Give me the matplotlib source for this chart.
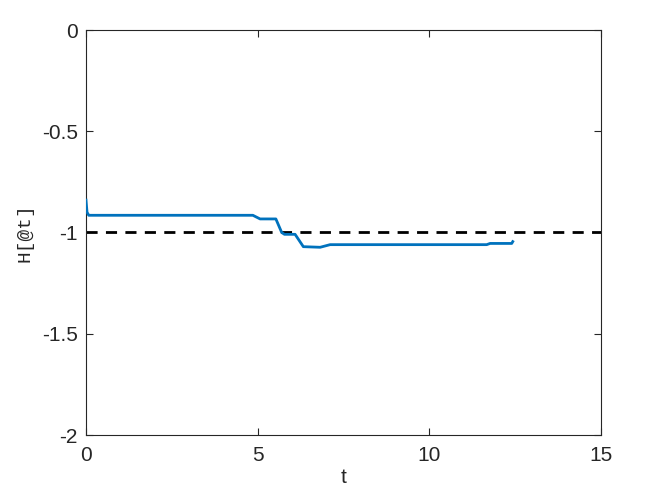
import numpy as np
import matplotlib.pyplot as plt

# H[@t] trace
t = [0.0, 0.03, 0.08, 1.0, 4.86, 5.07, 5.53, 5.70, 5.78, 6.09, 6.33, 6.82, 7.11,
     11.67, 11.77, 12.40, 12.43]
H = [-0.84, -0.90, -0.915, -0.915, -0.915, -0.933, -0.933, -1.0, -1.009, -1.009,
     -1.07, -1.073, -1.060, -1.060, -1.054, -1.054, -1.045]

ref_t = [0, 15]
ref_H = [-1, -1]

plt.rcParams['font.family'] = ['Liberation Sans', 'DejaVu Sans']

fig = plt.figure(figsize=(6.64, 4.98), dpi=100)
ax = fig.add_axes([86/664, 1 - 435/498, 515/664, 405/498])

ax.plot(t, H, color='#0072BD', lw=2, zorder=3)
ax.plot(ref_t, ref_H, color='black', lw=2, ls=(0, (4, 3)))

ax.set_xlim(0, 15)
ax.set_ylim(-2, 0)
ax.set_xticks([0, 5, 10, 15])
ax.set_yticks([-2, -1.5, -1, -0.5, 0])
ax.set_yticklabels(['-2', '-1.5', '-1', '-0.5', '0'])

for s in ax.spines.values():
    s.set_color('#262626')
    s.set_linewidth(0.8)
ax.tick_params(direction='in', top=True, right=True, length=5, width=0.8,
               colors='#262626', labelsize=15)
ax.tick_params(axis='x', pad=8)
ax.tick_params(axis='y', pad=6)
for lab in ax.get_xticklabels() + ax.get_yticklabels():
    lab.set_color('#262626')

ax.set_xlabel('t', fontsize=15, color='#262626', labelpad=2)
ax.set_ylabel('H[@t]', fontsize=14, family='Liberation Mono', color='#262626', labelpad=6)

fig.savefig('out.png', dpi=100)
